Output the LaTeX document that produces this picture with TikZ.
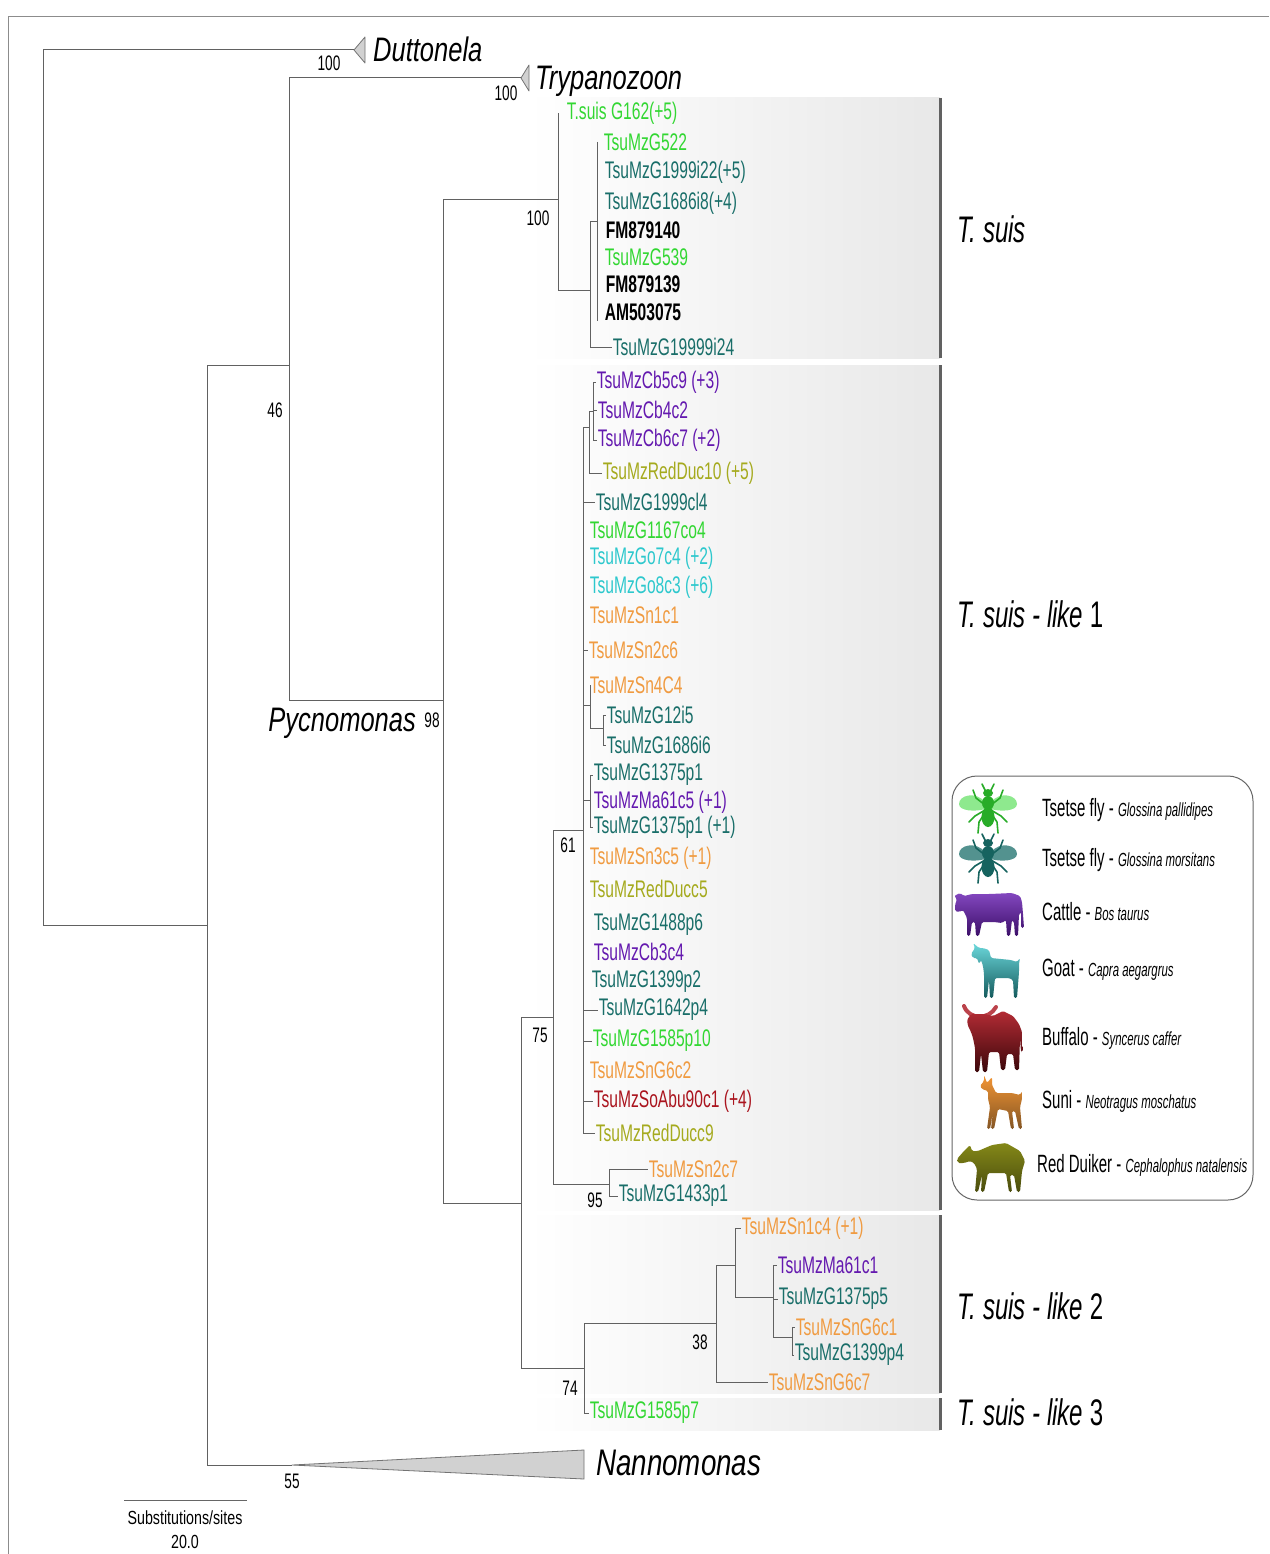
\documentclass[tikz,border=0pt]{standalone}
\usepackage{fontspec}
\setmainfont{Liberation Sans}
\newfontfamily\leaffont{Liberation Sans}[FakeStretch=0.65]
\newfontfamily\bigfont{Liberation Sans}[FakeStretch=0.75]
\newfontfamily\legfont{Liberation Sans}[FakeStretch=0.6]

\definecolor{cG}{RGB}{50,215,50}
\definecolor{cT}{RGB}{25,110,105}
\definecolor{cP}{RGB}{100,25,175}
\definecolor{cC}{RGB}{45,200,205}
\definecolor{cR}{RGB}{170,20,30}
\definecolor{cO}{RGB}{240,155,65}
\definecolor{cY}{RGB}{165,170,30}

\tikzset{
  br/.style={draw=black!62, line width=1pt},
  leaf/.style={anchor=west, inner sep=0.6pt, font=\leaffont\fontsize{24}{24}\selectfont},
  boot/.style={inner sep=0pt, font=\leaffont\fontsize{21}{21}\selectfont},
  taxon/.style={inner sep=0pt, font=\bigfont\itshape\fontsize{34}{34}\selectfont},
  clade/.style={anchor=base west, inner sep=0pt, font=\leaffont\fontsize{37}{37}\selectfont},
  cbox/.style={left color=white, right color=black!9, draw=none},
  cbar/.style={draw=black!62, line width=3pt},
  tri/.style={fill=black!18, draw=black!55, line width=0.8pt, line join=round},
  legtxt/.style={anchor=west, inner sep=0pt, font=\legfont\fontsize{25}{25}\selectfont},
  animal/.style={rounded corners=1.5pt},
}
\newcommand\spname[1]{{\fontsize{19}{19}\selectfont\itshape #1}}

% top-view tsetse fly: #1,#2 centre, #3 wing colour, #4 body colour
\newcommand\flyicon[4]{%
  \begin{scope}[shift={(#1,#2)}]
    \foreach \s in {1,-1}{
      \begin{scope}[xscale=\s]
        \fill[#3] (-3,-6) .. controls (-12,-17) and (-29,-13) .. (-29,-4)
                  .. controls (-29,3) and (-13,4) .. (-3,1) -- cycle;
        \draw[#4, line width=1.6pt, line cap=round, line join=round]
          (-3,-3) -- (-12,-10) -- (-15,-18)
          (-3,2) -- (-13,8) -- (-19,14)
          (-3,5) -- (-9,14) -- (-10,25)
          (-2,-16) -- (-6,-24);
      \end{scope}}
    \fill[#4] (0,-15) ellipse (5 and 4);
    \fill[#4] (0,-5) ellipse (6 and 7);
    \fill[#4] (0,9) ellipse (6.5 and 10);
  \end{scope}}

\begin{document}
\begin{tikzpicture}[x=1pt,y=-1pt]
\useasboundingbox (0,0) rectangle (1269,1554);
\fill[white] (0,0) rectangle (1269,1554);
\draw[black!45, line width=1pt] (1269,17) -- (8,17) -- (8,1554);

% shaded clade panels
\shade[cbox] (528,98) rectangle (940,358);
\shade[cbox] (528,365) rectangle (940,1210);
\shade[cbox] (528,1215) rectangle (940,1393);
\shade[cbox] (528,1398) rectangle (940,1430);
\draw[cbar] (940,98) -- (940,358);
\draw[cbar] (940,365) -- (940,1210);
\draw[cbar] (940,1215) -- (940,1393);
\draw[cbar] (940,1398) -- (940,1430);

% clade names
\node[clade] (cl1) at (957,243) {\itshape T. suis};
\node[clade] (cl2) at (957,627) {\itshape T. suis - like\/ \upshape 1};
\node[clade] (cl3) at (957,1319) {\itshape T. suis - like\/ \upshape 2};
\node[clade] (cl4) at (957,1425) {\itshape T. suis - like\/ \upshape 3};

% internal nodes
\coordinate (root) at (43,487);
\coordinate (n207) at (207,925);
\coordinate (n289) at (289,365);
\coordinate (n443) at (443,700);
\coordinate (n558) at (558,200);
\coordinate (n590) at (590,290);
\coordinate (n597) at (597,222);
\coordinate (n521) at (521,1203);
\coordinate (n553) at (553,1017);
\coordinate (n609) at (609,1184);
\coordinate (n583) at (583,830);
\coordinate (nA) at (589,427);
\coordinate (nB) at (593,411);
\coordinate (nC) at (590,705);
\coordinate (nD) at (603,728);
\coordinate (nE) at (590,800);
\coordinate (n584) at (584,1368);
\coordinate (n716) at (716,1323);
\coordinate (n735) at (735,1265);
\coordinate (n773) at (773,1297);
\coordinate (n792) at (792,1337);
\coordinate (dutTip) at (354,50);
\coordinate (tryTip) at (521,78);
\coordinate (nanTip) at (292,1465);

% collapsed groups
\draw[tri] (dutTip) -- ++(11,-13) -- ++(0,26) -- cycle;
\draw[tri] (tryTip) -- ++(8,-13) -- ++(0,26) -- cycle;
\draw[tri] (nanTip) -- (584,1450) -- (584,1479) -- cycle;
\node[taxon, anchor=base west] (dut) at (373,62) {Duttonela};
\node[taxon, anchor=base west] (try) at (535,90) {Trypanozoon};
\node[taxon, anchor=base east] (pyc) at (416,731) {Pycnomonas};
\node[taxon, anchor=base west, font=\bigfont\itshape\fontsize{37}{37}\selectfont] (nan) at (596,1475) {Nannomonas};

% leaves: T. suis
\node[leaf, text=cG] (L1) at (566,113) {T.suis G162(+5)};
\node[leaf, text=cG] (L2) at (603,142) {TsuMzG522};
\node[leaf, text=cT] (L3) at (604,172) {TsuMzG1999i22(+5)};
\node[leaf, text=cT] (L4) at (604,203) {TsuMzG1686i8(+4)};
\node[leaf, font=\leaffont\bfseries\fontsize{24}{24}\selectfont] (L5) at (605,230) {FM879140};
\node[leaf, text=cG] (L6) at (604,257) {TsuMzG539};
\node[leaf, font=\leaffont\bfseries\fontsize{24}{24}\selectfont] (L7) at (605,284) {FM879139};
\node[leaf, font=\leaffont\bfseries\fontsize{24}{24}\selectfont] (L8) at (604,312) {AM503075};
\node[leaf, text=cT] (L9) at (612,347) {TsuMzG19999i24};

% leaves: T. suis - like 1
\node[leaf, text=cP] (Lcb5) at (596,382) {TsuMzCb5c9 (+3)};
\node[leaf, text=cP] (Lcb4) at (597,410) {TsuMzCb4c2};
\node[leaf, text=cP] (Lcb6) at (597,440) {TsuMzCb6c7 (+2)};
\node[leaf, text=cY] (Lduc10) at (602,473) {TsuMzRedDuc10 (+5)};
\node[leaf, text=cT] (Lcl4) at (595,502) {TsuMzG1999cl4};
\node[leaf, text=cG] (Lco4) at (589,530) {TsuMzG1167co4};
\node[leaf, text=cC] (Lgo7) at (589,558) {TsuMzGo7c4 (+2)};
\node[leaf, text=cC] (Lgo8) at (589,587) {TsuMzGo8c3 (+6)};
\node[leaf, text=cO] (Lsn1) at (589,615) {TsuMzSn1c1};
\node[leaf, text=cO] (Lsn2c6) at (588,650) {TsuMzSn2c6};
\node[leaf, text=cO] (Lsn4) at (589,685) {TsuMzSn4C4};
\node[leaf, text=cT] (Lg12) at (606,715) {TsuMzG12i5};
\node[leaf, text=cT] (Li6) at (606,745) {TsuMzG1686i6};
\node[leaf, text=cT] (Lp1a) at (593,775) {TsuMzG1375p1};
\node[leaf, text=cP] (Lma5) at (593,802) {TsuMzMa61c5 (+1)};
\node[leaf, text=cT] (Lp1b) at (593,827) {TsuMzG1375p1 (+1)};
\node[leaf, text=cO] (Lsn3) at (589,858) {TsuMzSn3c5 (+1)};
\node[leaf, text=cY] (Lducc5) at (589,889) {TsuMzRedDucc5};
\node[leaf, text=cT] (Lp6) at (593,925) {TsuMzG1488p6};
\node[leaf, text=cP] (Lcb3) at (593,952) {TsuMzCb3c4};
\node[leaf, text=cT] (Lp2) at (591,982) {TsuMzG1399p2};
\node[leaf, text=cT] (Lp4) at (598,1010) {TsuMzG1642p4};
\node[leaf, text=cG] (Lp10) at (592,1041) {TsuMzG1585p10};
\node[leaf, text=cO] (Lc2) at (589,1070) {TsuMzSnG6c2};
\node[leaf, text=cR] (Labu) at (593,1101) {TsuMzSoAbu90c1 (+4)};
\node[leaf, text=cY] (Lducc9) at (595,1133) {TsuMzRedDucc9};
\node[leaf, text=cO] (Lsn2c7) at (648,1169) {TsuMzSn2c7};
\node[leaf, text=cT] (Lg1433) at (618,1196) {TsuMzG1433p1};

% leaves: T. suis - like 2 and 3
\node[leaf, text=cO] (Lsn1c4) at (741,1228) {TsuMzSn1c4 (+1)};
\node[leaf, text=cP] (Lma1) at (777,1265) {TsuMzMa61c1};
\node[leaf, text=cT] (Lp5) at (778,1299) {TsuMzG1375p5};
\node[leaf, text=cO] (Lg6c1) at (795,1327) {TsuMzSnG6c1};
\node[leaf, text=cT] (Lp4b) at (794,1355) {TsuMzG1399p4};
\node[leaf, text=cO] (Lg6c7) at (768,1382) {TsuMzSnG6c7};
\node[leaf, text=cG] (Lp7) at (589,1413) {TsuMzG1585p7};

% branches
\draw[br] (root) |- (dutTip);
\draw[br] (root) |- (n207);
\draw[br] (n207) |- (n289);
\draw[br] (n207) |- (nanTip);
\draw[br] (n289) |- (tryTip);
\draw[br] (n289) |- (n443);
\draw[br] (n443) |- (n558);
\draw[br] (n443) |- (n521);
\draw[br] (n558) -- (n558 |- L1.west);
\draw[br] (n558) |- (n590);
\draw[br] (n590) |- (n597);
\draw[br] (n590) |- (L9.west);
\draw[br] (n597 |- L2.west) -- (n597 |- L8.south);
\draw[br] (n521) |- (n553);
\draw[br] (n521) |- (n584);
\draw[br] (n553) |- (n583);
\draw[br] (n553) |- (n609);
\draw[br] (n609) |- (Lsn2c7.west);
\draw[br] (n609) |- (Lg1433.west);
\draw[br] (n583) |- (nA);
\draw[br] (n583) |- (Lcl4.west);
\draw[br] (n583) |- (Lsn2c6.west);
\draw[br] (n583) |- (nC);
\draw[br] (n583) |- (nE);
\draw[br] (n583) |- (Lp4.west);
\draw[br] (n583) |- (Lp10.west);
\draw[br] (n583) |- (Labu.west);
\draw[br] (n583) |- (Lducc9.west);
\draw[br] (nA) |- (nB);
\draw[br] (nA) |- (Lduc10.west);
\draw[br] (nB) |- (Lcb5.west);
\draw[br] (nB) |- (Lcb4.west);
\draw[br] (nB) |- (Lcb6.west);
\draw[br] (nC) -- (nC |- Lsn4.west);
\draw[br] (nC) |- (nD);
\draw[br] (nD) |- (Lg12.west);
\draw[br] (nD) |- (Li6.west);
\draw[br] (nE) |- (Lp1a.west);
\draw[br] (nE) |- (Lp1b.west);
\draw[br] (n584) |- (n716);
\draw[br] (n584) |- (Lp7.west);
\draw[br] (n716) |- (n735);
\draw[br] (n716) |- (Lg6c7.west);
\draw[br] (n735) |- (Lsn1c4.west);
\draw[br] (n735) |- (n773);
\draw[br] (n773) |- (Lma1.west);
\draw[br] (n773) |- (Lp5.west);
\draw[br] (n773) |- (n792);
\draw[br] (n792) |- (Lg6c1.west);
\draw[br] (n792) |- (Lp4b.west);

% support values
\node[boot] (b1) at (329,63) {100};
\node[boot] (b2) at (506,93) {100};
\node[boot] (b3) at (275,410) {46};
\node[boot] (b4) at (432,720) {98};
\node[boot] (b5) at (538,218) {100};
\node[boot] (b6) at (568,845) {61};
\node[boot] (b7) at (540,1035) {75};
\node[boot] (b8) at (595,1200) {95};
\node[boot] (b9) at (700,1342) {38};
\node[boot] (b10) at (570,1388) {74};
\node[boot] (b11) at (292,1481) {55};

% scale bar
\coordinate (sb1) at (124,1500);
\coordinate (sb2) at (247,1500);
\draw[black!60, line width=1pt] (sb1) -- (sb2);
\node[inner sep=0pt, font=\bigfont\fontsize{19}{19}\selectfont] (sbt) at (185,1518) {Substitutions/sites};
\node[inner sep=0pt, font=\bigfont\fontsize{19}{19}\selectfont] (sbv) at (185,1542) {20.0};

% host legend
\draw[black!60, line width=1pt, rounded corners=25pt] (952,776) rectangle (1253,1200);
\flyicon{988}{808}{cG!55!white}{cG!80!black}
\flyicon{988}{858}{cT!75!white}{cT!90!black}
% cattle
\begin{scope}[shift={(990,914)}]
\shade[animal, top color=cP!80!white, bottom color=cP!60!black]
 (-30,-21) -- (-26,-18) -- (-18,-20) -- (0,-20) -- (22,-21) -- (30,-18) -- (32,-12)
 -- (33,0) -- (34,14) -- (31,14) -- (31,-2) -- (29,0) -- (28,22) -- (25,22) -- (24,8)
 -- (22,6) -- (20,22) -- (17,22) -- (16,6) -- (12,9) -- (4,8) -- (-8,8) -- (-11,22)
 -- (-14,22) -- (-15,8) -- (-18,8) -- (-20,22) -- (-23,22) -- (-23,4) -- (-25,0)
 -- (-27,-4) -- (-31,-2) -- (-35,-3) -- (-35,-9) -- (-33,-15) -- (-36,-18) -- cycle;
\end{scope}
% goat
\begin{scope}[shift={(995,970)}]
\shade[animal, top color=cC!70!white, bottom color=cC!45!black]
 (-22,-27) -- (-16,-22) -- (-12,-22) -- (-6,-20) -- (-4,-12) -- (16,-10) -- (22,-8)
 -- (25,-12) -- (24,-6) -- (24,2) -- (22,28) -- (19,28) -- (18,10) -- (14,8) -- (0,8)
 -- (-2,28) -- (-5,28) -- (-6,10) -- (-8,28) -- (-11,28) -- (-11,4) -- (-12,-4)
 -- (-14,-10) -- (-16,-6) -- (-18,-12) -- (-22,-12) -- (-24,-16) -- (-20,-22) -- cycle;
\end{scope}
% buffalo
\begin{scope}[shift={(993,1038)}]
\draw[cR!80!white, line width=4pt, line cap=round]
 (-29,-32) .. controls (-24,-18) and (-4,-18) .. (3,-31);
\shade[animal, top color=cR!90!white, bottom color=cR!35!black]
 (-22,-24) -- (-8,-24) -- (0,-22) -- (10,-27) -- (20,-22) -- (26,-14) -- (29,-6)
 -- (30,14) -- (28,14) -- (27,0) -- (26,32) -- (22,32) -- (20,16) -- (14,16) -- (12,32)
 -- (8,32) -- (6,14) -- (-4,14) -- (-6,34) -- (-10,34) -- (-12,16) -- (-14,34) -- (-18,34)
 -- (-18,10) -- (-20,0) -- (-22,-6) -- (-25,-12) -- (-26,-18) -- cycle;
\end{scope}
% suni
\begin{scope}[shift={(1000,1101)}]
\shade[animal, top color=cO!80!orange, bottom color=cO!55!black]
 (-16,-26) -- (-13,-18) -- (-8,-24) -- (-8,-16) -- (-4,-8) -- (12,-8) -- (20,-6)
 -- (22,-10) -- (22,-2) -- (20,6) -- (22,28) -- (19,28) -- (15,10) -- (12,10) -- (14,28)
 -- (11,28) -- (8,10) -- (-2,8) -- (-6,28) -- (-9,28) -- (-7,10) -- (-10,28) -- (-13,28)
 -- (-10,6) -- (-12,-2) -- (-12,-10) -- (-18,-12) -- (-20,-15) -- (-16,-20) -- cycle;
\end{scope}
% red duiker
\begin{scope}[shift={(992,1165)}]
\shade[animal, top color=cY!80!black, bottom color=cY!45!black]
 (-35,-6) -- (-28,-14) -- (-22,-20) -- (-20,-14) -- (-14,-14) -- (0,-20) -- (14,-22)
 -- (28,-14) -- (33,-4) -- (30,6) -- (28,27) -- (25,27) -- (22,10) -- (18,10) -- (20,27)
 -- (17,27) -- (14,8) -- (-4,8) -- (-8,27) -- (-11,27) -- (-10,10) -- (-14,27) -- (-17,27)
 -- (-15,4) -- (-18,-2) -- (-22,-4) -- (-28,-2) -- (-34,-2) -- cycle;
\end{scope}

\node[legtxt] (lg1) at (1042,810) {Tsetse fly - \spname{Glossina pallidipes}};
\node[legtxt] (lg2) at (1042,860) {Tsetse fly - \spname{Glossina morsitans}};
\node[legtxt] (lg3) at (1042,912) {Cattle - \spname{Bos taurus}};
\node[legtxt] (lg4) at (1042,970) {Goat - \spname{Capra aegargrus}};
\node[legtxt] (lg5) at (1042,1038) {Buffalo - \spname{Syncerus caffer}};
\node[legtxt] (lg6) at (1042,1101) {Suni - \spname{Neotragus moschatus}};
\node[legtxt] (lg7) at (1037,1165) {Red Duiker - \spname{Cephalophus natalensis}};
\end{tikzpicture}
\end{document}
